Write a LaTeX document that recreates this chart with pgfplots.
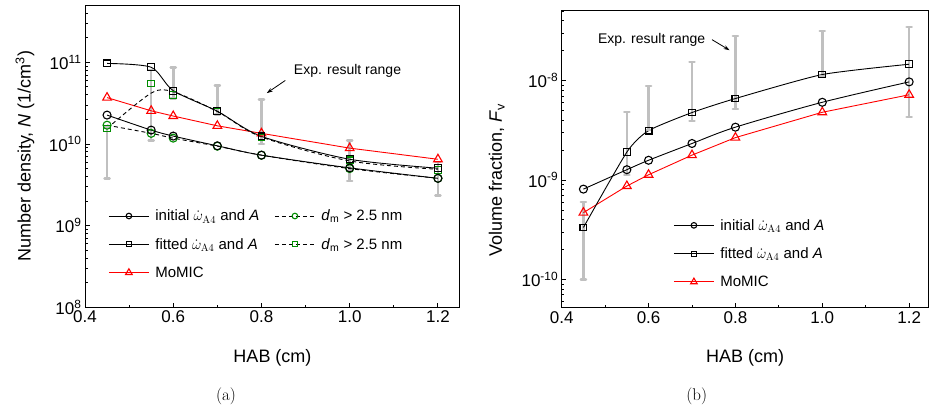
\documentclass[border=0pt]{standalone}
\usepackage{fontspec}
\newfontfamily\arial{Liberation Sans}
\usepackage{pgfplots}
\pgfplotsset{compat=1.18}
\usetikzlibrary{arrows.meta}
\definecolor{ebar}{RGB}{192,192,192}
\definecolor{dgreen}{RGB}{0,140,0}
\pgfplotsset{
  legend image code/.code={\draw[mark repeat=2,mark phase=2,#1] plot coordinates {(0pt,0pt)(20pt,0pt)(40pt,0pt)};},
  every tick/.style={black, line width=0.9pt},
  tick label style={font=\arial\fontsize{17}{17}\selectfont},
}
\tikzset{
  ebars/.style={ebar, line width=2.6pt, mark=-, mark size=2.6pt,
    mark options={line width=2.4pt, line cap=round}},
  pcirc/.style={black, line width=0.9pt, mark=o, mark size=4pt, mark options={fill=white, line width=1.1pt}},
  psq/.style={black, line width=0.9pt, mark=square, mark size=3.4pt, mark options={fill=white, line width=1.1pt}},
  ptri/.style={red, line width=0.9pt, mark=triangle, mark size=5pt, mark options={fill=white, line width=1.1pt}},
  gcirc/.style={black, line width=0.9pt, dash pattern=on 4pt off 3pt, mark=o, mark size=4pt, mark options={dgreen, fill=white, line width=1.1pt, solid}},
  gsq/.style={black, line width=0.9pt, dash pattern=on 4pt off 3pt, mark=square, mark size=3.4pt, mark options={dgreen, fill=white, line width=1.1pt, solid}},
  legcol/.style={column sep=13pt},
  legimg/.style={column sep=4pt},
}
\begin{document}
\begin{tikzpicture}
\useasboundingbox (0,0) rectangle (930pt,414pt);
% ---------------- (a) ----------------
\begin{axis}[
  scale only axis,
  at={(85pt,106.7pt)}, anchor=south west,
  width=375pt, height=302pt,
  ymode=log,
  xmin=0.4, xmax=1.25, ymin=1e8, ymax=5e11,
  xtick={0.4,0.6,0.8,1.0,1.2},
  xticklabels={0.4,0.6,0.8,1.0,1.2},
  minor xtick={0.5,0.7,0.9,1.1},
  tick align=inside,
  tick pos=left,
  major tick length=4.5pt,
  minor tick length=2.5pt,
  axis line style={line width=1pt},
  yticklabel={\pgfmathparse{int(round(\tick/ln(10)))}10\textsuperscript{\pgfmathresult}},
  xlabel={HAB (cm)},
  ylabel={Number density, \textit{N} (1/cm\textsuperscript{3})},
  every axis x label/.style={at={(axis description cs:0.5,-0.168)},anchor=center,font=\arial\fontsize{18}{18}\selectfont},
  every axis y label/.style={at={(axis description cs:-0.16,0.5)},rotate=90,anchor=center,font=\arial\fontsize{18}{18}\selectfont},
  legend columns=2,
  legend cell align=left,
  legend style={draw=none, fill=none, font=\arial\fontsize{15}{15}\selectfont,
      row sep=12pt, inner sep=0pt,
      at={(axis description cs:0.062,0.33)}, anchor=north west},
  legend style={/tikz/every even column/.append style={legcol},
                /tikz/every odd column/.append style={legimg}},
]
\addplot[ebars, unbounded coords=jump, forget plot] coordinates {
 (0.45,3.8e9) (0.45,1.6e10) (0.45,nan)
 (0.55,1.1e10) (0.55,8.0e10) (0.55,nan)
 (0.6,3.6e10) (0.6,8.6e10) (0.6,nan)
 (0.7,2.3e10) (0.7,5.2e10) (0.7,nan)
 (0.8,1.0e10) (0.8,3.5e10) (0.8,nan)
 (1.0,3.5e9) (1.0,1.1e10) (1.0,nan)
 (1.2,2.35e9) (1.2,6.0e9)
};
% MoMIC
\addplot[ptri, forget plot] coordinates {
 (0.45,3.7e10) (0.55,2.55e10) (0.6,2.2e10) (0.7,1.67e10) (0.8,1.35e10) (1.0,8.9e9) (1.2,6.5e9)};
% d_m > 2.5 nm (initial)
\addplot[gcirc, smooth, forget plot] coordinates {
 (0.45,1.7e10) (0.55,1.35e10) (0.6,1.18e10) (0.7,9.4e9) (0.8,7.3e9) (1.0,5.0e9) (1.2,3.8e9)};
% d_m > 2.5 nm (fitted): curve and points
\addplot[black, line width=0.9pt, dash pattern=on 4pt off 3pt, smooth, forget plot] coordinates {
 (0.45,1.55e10) (0.55,4.2e10) (0.6,4.35e10) (0.7,2.5e10) (0.8,1.22e10) (1.0,6.2e9) (1.2,4.9e9)};
\addplot[gsq, only marks, forget plot] coordinates {
 (0.45,1.55e10) (0.55,5.5e10) (0.6,4.0e10) (0.7,2.5e10) (0.8,1.2e10) (1.0,6.3e9) (1.2,4.8e9)};
% initial
\addplot[pcirc, smooth, forget plot] coordinates {
 (0.45,2.26e10) (0.55,1.48e10) (0.6,1.25e10) (0.7,9.5e9) (0.8,7.3e9) (1.0,5.1e9) (1.2,3.8e9)};
% fitted
\addplot[psq, smooth, tension=0.45, forget plot] coordinates {
 (0.45,9.7e10) (0.55,8.7e10) (0.6,4.5e10) (0.7,2.52e10) (0.8,1.24e10) (1.0,6.5e9) (1.2,5.05e9)};
\addlegendimage{pcirc, mark size=2.8pt}
\addlegendentry{initial $\dot{\omega}_{\mathrm{A4}}$ and \textit{A}}
\addlegendimage{gcirc, mark size=2.8pt}
\addlegendentry{\textit{d}\textsubscript{m} > 2.5 nm}
\addlegendimage{psq, mark size=2.5pt}
\addlegendentry{fitted $\dot{\omega}_{\mathrm{A4}}$ and \textit{A}}
\addlegendimage{gsq, mark size=2.5pt}
\addlegendentry{\textit{d}\textsubscript{m} > 2.5 nm}
\addlegendimage{ptri, mark size=3.8pt}
\addlegendentry{MoMIC}
\node[font=\arial\fontsize{14}{14}\selectfont] at (axis cs:0.995,7.9e10) {Exp. result range};
\draw[-{Stealth[length=6pt,width=4pt]}, line width=0.8pt] (axis cs:0.854,6.0e10) -- (axis cs:0.812,4.2e10);
\end{axis}
% ---------------- (b) ----------------
\begin{axis}[
  scale only axis,
  at={(561.7pt,106.3pt)}, anchor=south west,
  width=367pt, height=297.5pt,
  ymode=log,
  xmin=0.4, xmax=1.245, ymin=5.2e-11, ymax=5.1e-8,
  xtick={0.4,0.6,0.8,1.0,1.2},
  xticklabels={0.4,0.6,0.8,1.0,1.2},
  minor xtick={0.5,0.7,0.9,1.1},
  tick align=inside,
  tick pos=left,
  major tick length=4.5pt,
  minor tick length=2.5pt,
  axis line style={line width=1pt},
  yticklabel={\pgfmathparse{int(round(\tick/ln(10)))}10\textsuperscript{\pgfmathresult}},
  xlabel={HAB (cm)},
  ylabel={Volume fraction, \textit{F}\textsubscript{v}},
  every axis x label/.style={at={(axis description cs:0.5,-0.168)},anchor=center,font=\arial\fontsize{18}{18}\selectfont},
  every axis y label/.style={at={(axis description cs:-0.177,0.43)},rotate=90,anchor=center,font=\arial\fontsize{18}{18}\selectfont},
  legend cell align=left,
  legend style={draw=none, fill=none, font=\arial\fontsize{15}{15}\selectfont,
      row sep=12pt, inner sep=0pt,
      at={(axis description cs:0.304,0.305)}, anchor=north west},
  legend style={/tikz/every odd column/.append style={legimg}},
]
\addplot[ebars, unbounded coords=jump, forget plot] coordinates {
 (0.45,1.0e-10) (0.45,6.0e-10) (0.45,nan)
 (0.55,1.12e-9) (0.55,4.8e-9) (0.55,nan)
 (0.6,3.2e-9) (0.6,8.8e-9) (0.6,nan)
 (0.7,3.9e-9) (0.7,1.53e-8) (0.7,nan)
 (0.8,5.2e-9) (0.8,2.8e-8) (0.8,nan)
 (1.0,1.1e-8) (1.0,3.15e-8) (1.0,nan)
 (1.2,4.3e-9) (1.2,3.46e-8)
};
\addplot[ptri, forget plot] coordinates {
 (0.45,4.7e-10) (0.55,8.7e-10) (0.6,1.13e-9) (0.7,1.78e-9) (0.8,2.67e-9) (1.0,4.8e-9) (1.2,7.2e-9)};
\addplot[pcirc, smooth, forget plot] coordinates {
 (0.45,8.1e-10) (0.55,1.27e-9) (0.6,1.58e-9) (0.7,2.33e-9) (0.8,3.4e-9) (1.0,6.05e-9) (1.2,9.7e-9)};
\addplot[psq, smooth, tension=0.35, forget plot] coordinates {
 (0.45,3.33e-10) (0.55,1.91e-9) (0.6,3.14e-9) (0.7,4.77e-9) (0.8,6.6e-9) (1.0,1.15e-8) (1.2,1.46e-8)};
\addlegendimage{pcirc, mark size=2.8pt}
\addlegendentry{initial $\dot{\omega}_{\mathrm{A4}}$ and \textit{A}}
\addlegendimage{psq, mark size=2.5pt}
\addlegendentry{fitted $\dot{\omega}_{\mathrm{A4}}$ and \textit{A}}
\addlegendimage{ptri, mark size=3.8pt}
\addlegendentry{MoMIC}
\node[font=\arial\fontsize{14}{14}\selectfont] at (axis cs:0.607,2.54e-8) {Exp. result range};
\draw[-{Stealth[length=6pt,width=4pt]}, line width=0.8pt] (axis cs:0.746,2.58e-8) -- (axis cs:0.7865,2.02e-8);
\end{axis}
\node[font=\fontsize{17}{17}\selectfont] at (226pt,17.3pt) {(a)};
\node[font=\fontsize{17}{17}\selectfont] at (696.7pt,17.3pt) {(b)};
\end{tikzpicture}
\end{document}
